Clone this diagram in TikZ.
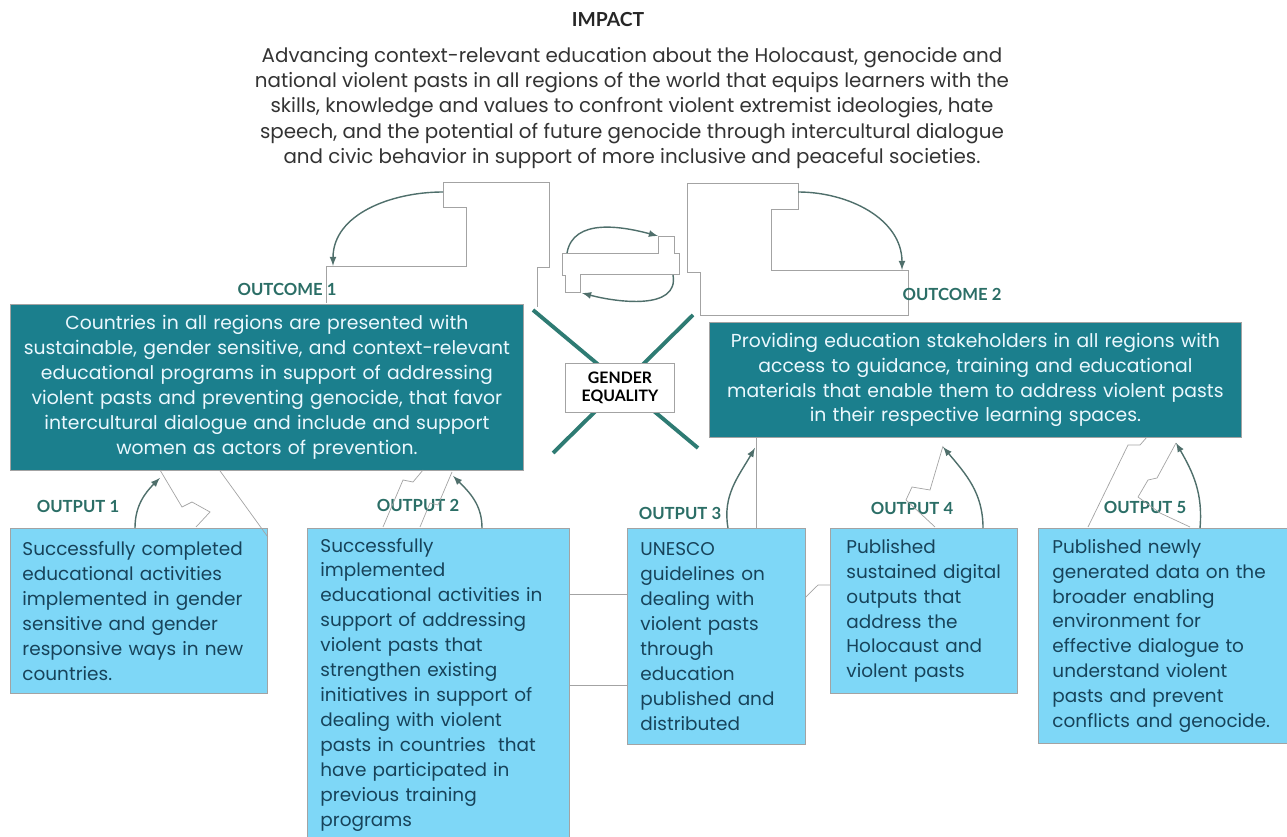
\documentclass[tikz,border=0pt]{standalone}
\usepackage{fontspec}
\setmainfont{Poppins}
\newfontfamily\tagfont{Lato}
\usepackage{tikz}
\usetikzlibrary{positioning,calc,arrows}
\definecolor{tealbox}{HTML}{1B7F8D}
\definecolor{tealtag}{HTML}{2B6E66}
\definecolor{skyfill}{HTML}{7ED7F7}
\definecolor{navytxt}{HTML}{17435A}
\definecolor{greyline}{HTML}{A3A3A3}
\definecolor{arrowc}{HTML}{4F6F6B}
\definecolor{crossc}{HTML}{2E7B73}
\tikzset{
  basic/.style   = {draw=greyline, line width=0.5pt, rectangle},
  outcome/.style = {basic, fill=tealbox, text=cyan!8, align=center,
                    anchor=north west, inner sep=0pt,
                    font=\fontsize{10.7}{14.2}\selectfont},
  output/.style  = {basic, fill=skyfill, text=navytxt, align=left,
                    anchor=north west, inner xsep=0.24cm, inner ysep=0pt,
                    font=\fontsize{10.5}{14.2}\selectfont},
  tag/.style     = {font=\tagfont\bfseries\fontsize{9.5}{11}\selectfont, text=tealtag},
  link/.style    = {->, draw=arrowc, line width=0.8pt},
  ghost/.style   = {draw=greyline, line width=0.4pt}
}
\begin{document}
\begin{tikzpicture}[x=0.02cm, y=-0.02cm, >=latex]
  \useasboundingbox (0,0) rectangle (1287,837);
  % impact at the top
  \node[font=\tagfont\bfseries\fontsize{11}{13}\selectfont, text=black!85] (imp) at (608,20) {IMPACT};
  \node[align=center, text=black!80, font=\fontsize{11.3}{14.5}\selectfont] (imptxt) at (632,108)
    {Advancing context-relevant education about the Holocaust, genocide and\\
     national violent pasts in all regions of the world that equips learners with the\\
     skills, knowledge and values to confront violent extremist ideologies, hate\\
     speech, and the potential of future genocide through intercultural dialogue\\
     and civic behavior in support of more inclusive and peaceful societies.};
  % grey outlines behind the upper arrows
  \draw[ghost] (326,303) -- (326,266) -- (466,266) -- (466,207) -- (443,207) -- (443,182)
    -- (549,182) -- (549,267) -- (537,267) -- (537,307);
  \draw[ghost] (687,183) -- (798,183) -- (798,209) -- (771,209) -- (771,270) -- (908,270)
    -- (908,315) -- (700,315) -- (700,272) -- (687,272) -- cycle;
  \draw[ghost] (562,253) -- (658,253) -- (658,236) -- (674,236) -- (674,253) -- (679,253)
    -- (679,274) -- (580,274) -- (580,292) -- (565,292) -- (565,275) -- (562,275) -- cycle;
  \coordinate (up1) at (443,192);
  \coordinate (dn1) at (333,266);
  \coordinate (up2) at (798,192);
  \coordinate (dn2) at (902,270);
  \coordinate (mida) at (567,253);
  \coordinate (midb) at (658,236);
  \coordinate (midc) at (673,275);
  \coordinate (midd) at (582,293);
  \draw[link] (up1) to[out=180, in=90] (dn1);
  \draw[link] (up2) to[out=0, in=90] (dn2);
  \draw[link] (mida) to[out=80, in=165] (midb);
  \draw[link] (midc) to[out=-80, in=-15] (midd);
  % the cross behind gender equality
  \draw[crossc, line width=2.2pt] (533,310) -- (698,448);
  \draw[crossc, line width=2.2pt] (693,315) -- (553,453);
  \node[basic, fill=white, minimum width=2.18cm, minimum height=0.98cm, align=center,
        font=\tagfont\bfseries\fontsize{9}{10.5}\selectfont] (gender) at (620,388) {GENDER\\EQUALITY};
  % outcomes
  \node[outcome, minimum width=10.26cm, minimum height=3.32cm, text width=9.9cm] (oc1) at (10,304)
    {Countries in all regions are presented with\\
     sustainable, gender sensitive, and context-relevant\\
     educational programs in support of addressing\\
     violent pasts and preventing genocide, that favor\\
     intercultural dialogue and include and support\\
     women as actors of prevention.};
  \node[outcome, minimum width=10.64cm, minimum height=2.3cm, text width=10.2cm] (oc2) at (709,322)
    {Providing education stakeholders in all regions with\\
     access to guidance, training and educational\\
     materials that enable them to address violent pasts\\
     in their respective learning spaces.};
  \node[tag] (oc1tag) at (287,289) {OUTCOME 1};
  \node[tag] (oc2tag) at (952,294) {OUTCOME 2};
  % outputs
  \node[output, text width=4.66cm, minimum height=3.3cm] (out1) at (10,528)
    {Successfully completed\\ educational activities\\ implemented in gender\\
     sensitive and gender\\ responsive ways in new\\ countries.};
  \node[output, text width=4.72cm, inner ysep=0.19cm, inner xsep=0.26cm] (out2) at (307,528)
    {Successfully\\ implemented\\ educational activities in\\ support of addressing\\
     violent pasts that\\ strengthen existing\\ initiatives in support of\\
     dealing with violent\\ pasts in countries\ \ that\\ have participated in\\
     previous training\\ programs};
  \node[output, text width=3.04cm, minimum height=4.32cm, inner xsep=0.26cm] (out3) at (627,528)
    {UNESCO\\ guidelines on\\ dealing with\\ violent pasts\\ through\\ education\\
     published and\\ distributed};
  \node[output, text width=3.1cm, minimum height=3.3cm, inner xsep=0.32cm] (out4) at (830,528)
    {Published\\ sustained digital\\ outputs that\\ address the\\ Holocaust and\\ violent pasts};
  \node[output, text width=4.42cm, minimum height=4.3cm, inner xsep=0.28cm] (out5) at (1038,528)
    {Published newly\\ generated data on the\\ broader enabling\\ environment for\\
     effective dialogue to\\ understand violent\\ pasts and prevent\\ conflicts and genocide.};
  \node[tag] (out1tag) at (78,506) {OUTPUT 1};
  \node[tag] (out2tag) at (418,505) {OUTPUT 2};
  \node[tag] (out3tag) at (680,513) {OUTPUT 3};
  \node[tag] (out4tag) at (912,508) {OUTPUT 4};
  \node[tag] (out5tag) at (1145,507) {OUTPUT 5};
  % grey outlines between the outputs
  \draw[ghost] (160,470) -- (182,507) -- (192,502) -- (210,512) -- (196,527);
  \draw[ghost] ($(oc1.south west)+(210,0)$) -- ($(out1.north east)+(0,9)$);
  \draw[ghost] (423,470) -- (413,482) -- (403,480) -- (383,527);
  \draw[ghost] (452,472) -- (438,505) -- (430,503) -- (420,527);
  \draw[ghost] ($(oc2.south west)+(47,0)$) -- ($(out3.north west)+(129,0)$);
  \draw[ghost] ($(out2.north east)+(0,66)$) -- ($(out3.north west)+(0,66)$);
  \draw[ghost] ($(out2.north east)+(0,157)$) -- ($(out3.north west)+(0,157)$);
  \draw[ghost] ($(out3.north east)+(0,69)$) -- (818,585) -- ($(out4.north west)+(0,57)$);
  \draw[ghost] (943,446) -- (930,490) -- (912,487) -- (906,500) -- (935,527);
  \draw[ghost] (1147,437) -- (1140,445) -- (1128,445) -- (1088,527);
  \draw[ghost] (1176,443) -- (1157,478) -- (1148,480) -- (1138,497) -- (1160,513) -- (1190,527);
  % arrows from each output up to its outcome
  \draw[link] ($(out1.north west)+(125,0)$) to[out=90, in=-135] ($(oc1.south west)+(150,7)$);
  \draw[link] ($(out2.north west)+(175,0)$) to[out=90, in=-45] ($(oc1.south west)+(443,5)$);
  \draw[link] ($(out3.north west)+(101,0)$) to[out=100, in=-120] ($(oc2.south west)+(46,10)$);
  \draw[link] ($(out4.north west)+(153,0)$) to[out=90, in=-50] ($(oc2.south west)+(234,9)$);
  \draw[link] ($(out5.north west)+(162,0)$) to[out=85, in=-60] ($(oc2.south west)+(467,5)$);
\end{tikzpicture}
\end{document}
